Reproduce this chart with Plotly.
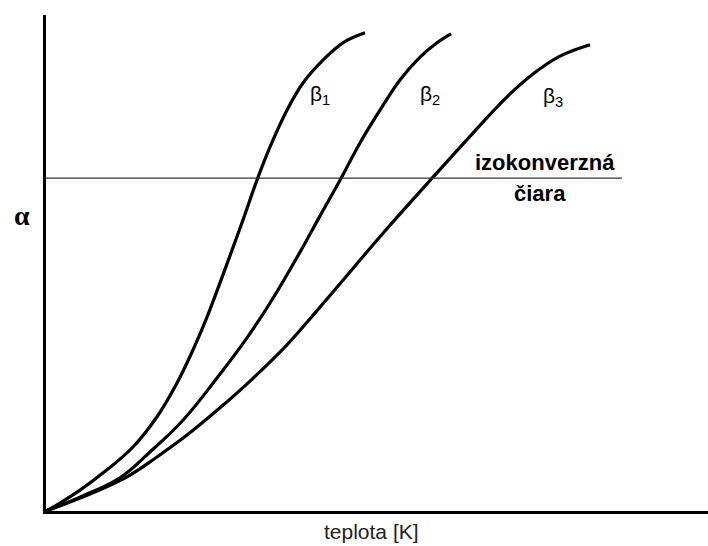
import plotly.graph_objects as go

# Conversion curves alpha(T) for three heating rates (relative temperature scale 0-100)
t_beta1 = [0, 2.11, 5.14, 9.21, 13.14, 16.77, 19.79, 22.21, 24.32, 26.28, 28.10, 29.76, 31.87, 33.84, 36.40, 38.82, 41.84, 44.86, 48.19]
a_beta1 = [0, 0.016, 0.042, 0.083, 0.129, 0.190, 0.258, 0.325, 0.391, 0.460, 0.526, 0.587, 0.667, 0.734, 0.808, 0.863, 0.909, 0.944, 0.964]

t_beta2 = [0, 5.14, 11.18, 15.71, 20.69, 25.83, 30.36, 34.29, 38.37, 41.39, 44.41, 47.43, 50.45, 53.47, 56.50, 59.06, 61.18]
a_beta2 = [0, 0.028, 0.067, 0.119, 0.183, 0.268, 0.349, 0.429, 0.522, 0.595, 0.667, 0.742, 0.808, 0.869, 0.915, 0.944, 0.962]

t_beta3 = [0, 5.14, 12.24, 16.77, 21.30, 26.28, 30.82, 36.40, 41.39, 45.92, 50.91, 58.46, 64.50, 69.64, 73.56, 77.64, 82.18]
a_beta3 = [0, 0.026, 0.069, 0.109, 0.153, 0.208, 0.262, 0.335, 0.411, 0.482, 0.560, 0.673, 0.762, 0.835, 0.881, 0.917, 0.940]

# Isoconversional level
iso_alpha = 0.671
iso_t = [0, 87.0]

curve_labels = ["β<sub>1</sub>", "β<sub>2</sub>", "β<sub>3</sub>"]
label_t = [41.39, 58.01, 76.59]
label_a = [0.839, 0.839, 0.835]

fig = go.Figure()

for t, a in [(t_beta1, a_beta1), (t_beta2, a_beta2), (t_beta3, a_beta3)]:
    fig.add_trace(go.Scatter(
        x=t, y=a, mode="lines",
        line=dict(color="black", width=3.2, shape="spline", smoothing=1.1),
        hoverinfo="skip", showlegend=False,
    ))

fig.add_trace(go.Scatter(
    x=iso_t, y=[iso_alpha, iso_alpha], mode="lines",
    line=dict(color="#333333", width=1.3),
    hoverinfo="skip", showlegend=False,
))

for txt, xt, ya in zip(curve_labels, label_t, label_a):
    fig.add_annotation(x=xt, y=ya, xref="x", yref="y", text=txt, showarrow=False,
                       xanchor="center", yanchor="middle",
                       font=dict(family="Arial", size=21, color="black"))

fig.add_annotation(x=75.38, y=0.702, xref="x", yref="y", text="<b>izokonverzná</b>",
                   showarrow=False, xanchor="center", yanchor="middle",
                   font=dict(family="Arial", size=22, color="black"))
fig.add_annotation(x=74.62, y=0.641, xref="x", yref="y", text="<b>čiara</b>",
                   showarrow=False, xanchor="center", yanchor="middle",
                   font=dict(family="Arial", size=22, color="black"))

fig.add_annotation(x=-0.0363, y=0.595, xref="paper", yref="paper", text="<b>α</b>",
                   showarrow=False, xanchor="center", yanchor="middle",
                   font=dict(family="Liberation Serif", size=28, color="black"))
fig.add_annotation(x=0.4924, y=-0.042, xref="paper", yref="paper", text="teplota [K]",
                   showarrow=False, xanchor="center", yanchor="middle",
                   font=dict(family="Arial", size=21, color="#222222"))

fig.update_xaxes(range=[0, 100], showline=True, linecolor="black", linewidth=3,
                 showgrid=False, zeroline=False, showticklabels=False, ticks="")
fig.update_yaxes(range=[0, 1], showline=True, linecolor="black", linewidth=3,
                 showgrid=False, zeroline=False, showticklabels=False, ticks="")

fig.update_layout(
    width=708, height=546,
    margin=dict(l=46, r=0, t=15, b=35),
    plot_bgcolor="white", paper_bgcolor="white",
)

fig.write_html("out.html")
